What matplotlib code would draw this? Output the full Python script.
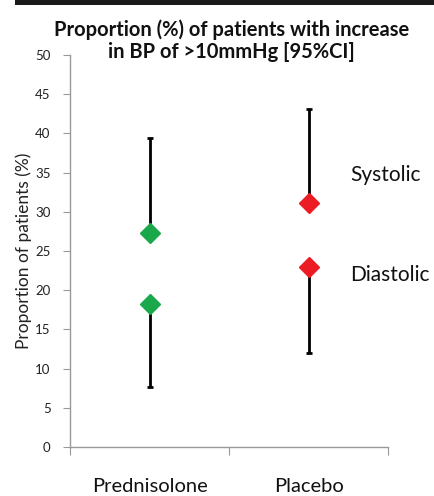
import matplotlib
matplotlib.use("Agg")
import matplotlib.pyplot as plt
from matplotlib.patches import Rectangle

categories = ["Prednisolone", "Placebo"]
systolic = [27.3, 31.1]
systolic_upper = [39.4, 43.1]
diastolic = [18.2, 23.0]
diastolic_lower = [7.6, 12.0]
point_colors = ["#1BA84A", "#EC1C24"]
yticks = [0, 5, 10, 15, 20, 25, 30, 35, 40, 45, 50]

plt.rcParams['font.family'] = ['Lato', 'DejaVu Sans']

fig = plt.figure(figsize=(4.34, 4.96), dpi=100)
ax = fig.add_axes([70/434, 49/496, 318/434, 392/496])

xpos = [0.5, 1.5]
for i in range(2):
    ax.errorbar([xpos[i]], [systolic[i]],
                yerr=[[0], [systolic_upper[i] - systolic[i]]],
                fmt='none', ecolor='black', elinewidth=2, capsize=2.5, capthick=2, zorder=2)
    ax.errorbar([xpos[i]], [diastolic[i]],
                yerr=[[diastolic[i] - diastolic_lower[i]], [0]],
                fmt='none', ecolor='black', elinewidth=2, capsize=2.5, capthick=2, zorder=2)
    ax.plot([xpos[i]], [systolic[i]], marker='D', color=point_colors[i], markersize=10, zorder=3)
    ax.plot([xpos[i]], [diastolic[i]], marker='D', color=point_colors[i], markersize=10, zorder=3)

ax.set_xlim(0, 2)
ax.set_ylim(0, 50)
ax.set_yticks(yticks)
ax.set_yticklabels([str(t) for t in yticks], fontsize=9.5, color='#222222')
ax.set_xticks([0, 1, 2])
ax.set_xticklabels([])
ax.set_xticks(xpos, minor=True)
ax.set_xticklabels(categories, minor=True, fontsize=14.5, color='#111111')
ax.tick_params(axis='x', which='minor', length=0, pad=22)
ax.tick_params(axis='x', which='major', length=6, color='#999999', direction='out')
ax.tick_params(axis='y', length=5, color='#999999', direction='out', pad=9)
for s in ['top', 'right']:
    ax.spines[s].set_visible(False)
for s in ['left', 'bottom']:
    ax.spines[s].set_color('#999999')
    ax.spines[s].set_linewidth(1)

ax.set_ylabel("Proportion of patients (%)", fontsize=12.5, color='#222222', labelpad=2)

fig.text(0.533, 0.918, "Proportion (%) of patients with increase\nin BP of >10mmHg [95%CI]",
         ha='center', va='center', fontsize=14.5, fontweight='bold', linespacing=1.15, color='#111111')

ax.text(1.76, 34.7, "Systolic", fontsize=15, va='center', ha='left', color='#111111')
ax.text(1.76, 21.9, "Diastolic", fontsize=15, va='center', ha='left', color='#111111')

fig.patches.append(Rectangle((15/434, 1 - 5/496), 1, 5/496, transform=fig.transFigure,
                             facecolor='#1a1a1a', edgecolor='none'))

fig.savefig("out.png", dpi=100)
